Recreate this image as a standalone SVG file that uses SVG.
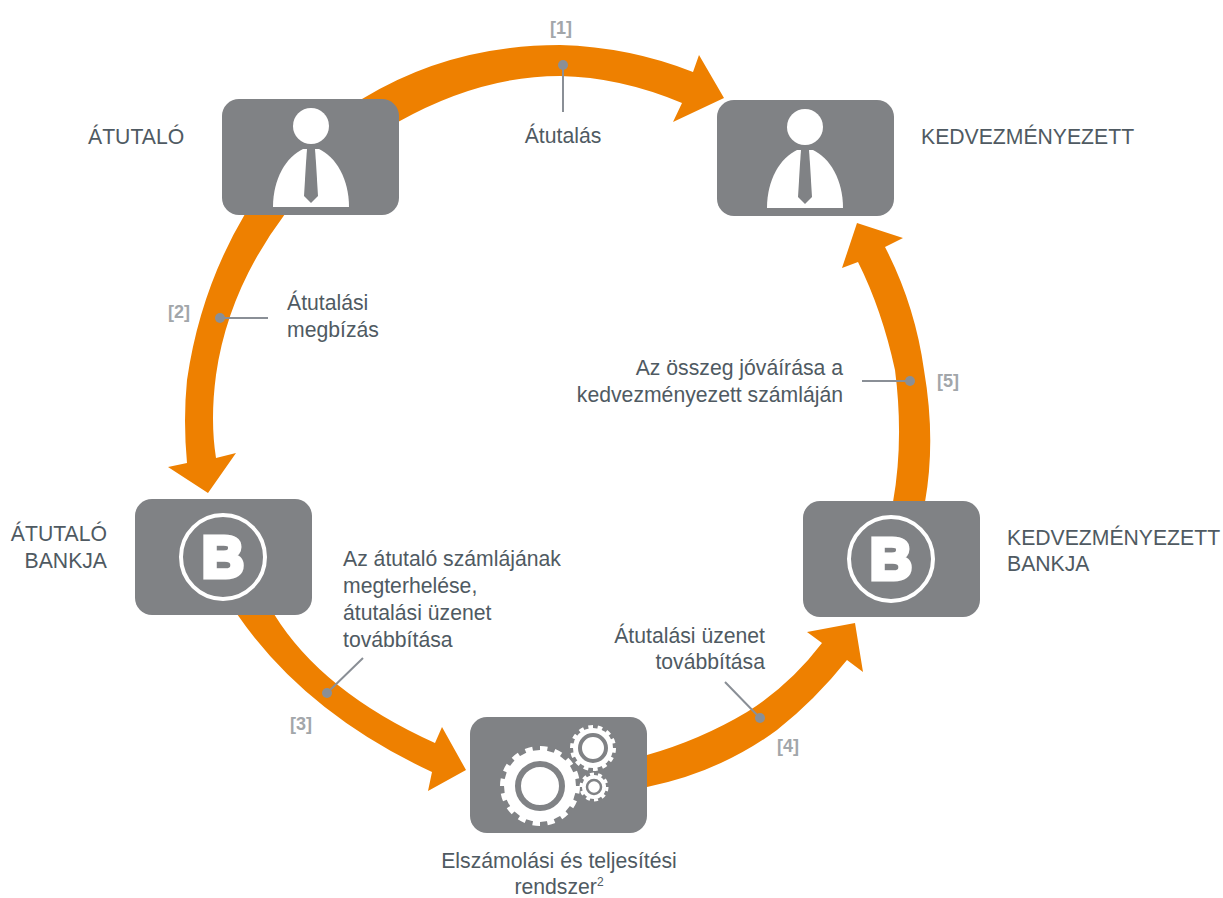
<svg xmlns="http://www.w3.org/2000/svg" width="1223" height="898" viewBox="0 0 1223 898">
<style>
text{font-family:"Liberation Sans",Arial,sans-serif;font-size:21.2px;fill:#4f5a62}
.r{text-anchor:end}.m{text-anchor:middle}
.n{font-size:18px;font-weight:bold;fill:#a2a6aa;text-anchor:middle}
.box{fill:#808285}
.arrow{fill:#ee8000}
.lead{stroke:#8a8f96;stroke-width:2;fill:none}
.dot{fill:#8a8f96}
.w{fill:#fff}
.g{fill:#808285}
.ring{fill:none;stroke:#fff;stroke-width:4}
.b{font-size:58px;font-weight:bold;fill:#fff;stroke:#fff;stroke-width:5;text-anchor:middle}
.teeth{fill:none;stroke:#fff;stroke-dasharray:1 1}
</style>
<defs>
<g id="person">
<circle class="w" cx="0" cy="27" r="18"/>
<path class="w" d="M-38,108 C-38,80 -25,58 -8,50 L8,50 C25,58 38,80 38,108 Z"/>
<path class="g" d="M-4,50 L4,50 L5,64 L7,97 L0,104 L-7,97 L-5,64 Z"/>
</g>
<g id="bank">
<circle class="ring" cx="0" cy="0" r="42"/>
<text class="b" x="0" y="20">B</text>
</g>
</defs>
<g id="connectors">
<path class="arrow" d="M362,99 Q450,45 560,45 Q630,47 693,72 L699,55 L724,98 L673,122 L682,103 Q620,77 560,76 Q480,76 398,122 Z"/>
<path class="arrow" d="M245,214 Q200,290 187,380 Q183,420 187,463 L168,467 L208,493 L236,453 L216,458 Q210,420 216,375 Q228,290 285,214 Z"/>
<path class="arrow" d="M237,614 Q305,713 432,772 L428,791 L466,770 L442,727 L435,743 Q322,692 274,614 Z"/>
<path class="arrow" d="M647,755 Q700,740 747,712 Q790,685 822,643 L807,632 L855,623 L863,672 L847,660 Q815,700 777,730 Q720,772 647,787 Z"/>
<path class="arrow" d="M893,502 Q904,440 895,370 Q882,310 858,262 L842,268 L857,223 L903,238 L885,247 Q915,305 924,370 Q936,440 925,502 Z"/>
<path class="lead" d="M563,65V112M220,318H268M327,693L363,658M760,718L725,682M910,381H862"/>
<circle class="dot" cx="563" cy="65" r="5"/>
<circle class="dot" cx="220" cy="318" r="5"/>
<circle class="dot" cx="327" cy="693" r="5"/>
<circle class="dot" cx="760" cy="718" r="5"/>
<circle class="dot" cx="910" cy="381" r="5"/>
</g>
<g id="atutalo">
<rect class="box" x="222" y="99" width="177" height="116" rx="17"/>
<use href="#person" x="311" y="99"/>
<text x="88" y="144">ÁTUTALÓ</text>
</g>
<g id="kedvezmenyezett">
<rect class="box" x="717" y="100" width="177" height="116" rx="17"/>
<use href="#person" x="805" y="100"/>
<text x="921" y="144">KEDVEZMÉNYEZETT</text>
</g>
<g id="atutalo-bankja">
<rect class="box" x="135" y="499" width="177" height="116" rx="17"/>
<use href="#bank" x="223" y="557"/>
<text class="r" x="107" y="541">ÁTUTALÓ</text>
<text class="r" x="107" y="568">BANKJA</text>
</g>
<g id="kedvezmenyezett-bankja">
<rect class="box" x="803" y="501" width="177" height="116" rx="17"/>
<use href="#bank" x="891" y="559"/>
<text x="1007" y="545">KEDVEZMÉNYEZETT</text>
<text x="1007" y="571">BANKJA</text>
</g>
<g id="elszamolasi-rendszer">
<rect class="box" x="470" y="717" width="177" height="116" rx="17"/>
<circle class="w" cx="540" cy="786" r="36"/>
<circle class="teeth" cx="540" cy="786" r="37" stroke-width="6" pathLength="32"/>
<circle cx="540" cy="786" r="22" fill="#fff" stroke="#808285" stroke-width="6"/>
<circle class="w" cx="593" cy="748" r="20"/>
<circle class="teeth" cx="593" cy="748" r="21" stroke-width="4" pathLength="28"/>
<circle cx="593" cy="748" r="13" fill="#fff" stroke="#808285" stroke-width="4"/>
<circle class="w" cx="594" cy="787" r="12"/>
<circle class="teeth" cx="594" cy="787" r="13" stroke-width="3" pathLength="20"/>
<circle cx="594" cy="787" r="7" fill="#fff" stroke="#808285" stroke-width="2.5"/>
<text class="m" x="559" y="868">Elszámolási és teljesítési</text>
<text class="m" x="559" y="894">rendszer<tspan font-size="12" dy="-8">2</tspan></text>
</g>
<g id="labels">
<text class="n" x="561" y="34">[1]</text>
<text class="m" x="563" y="143">Átutalás</text>
<text class="n" x="179" y="318">[2]</text>
<text x="287" y="310">Átutalási</text>
<text x="287" y="337">megbízás</text>
<text class="n" x="301" y="730">[3]</text>
<text x="343" y="566">Az átutaló számlájának</text>
<text x="343" y="593">megterhelése,</text>
<text x="343" y="620">átutalási üzenet</text>
<text x="343" y="647">továbbítása</text>
<text class="n" x="788" y="752">[4]</text>
<text class="r" x="765" y="643">Átutalási üzenet</text>
<text class="r" x="765" y="669">továbbítása</text>
<text class="n" x="948" y="387">[5]</text>
<text class="r" x="843" y="375">Az összeg jóváírása a</text>
<text class="r" x="843" y="402">kedvezményezett számláján</text>
</g>
</svg>
